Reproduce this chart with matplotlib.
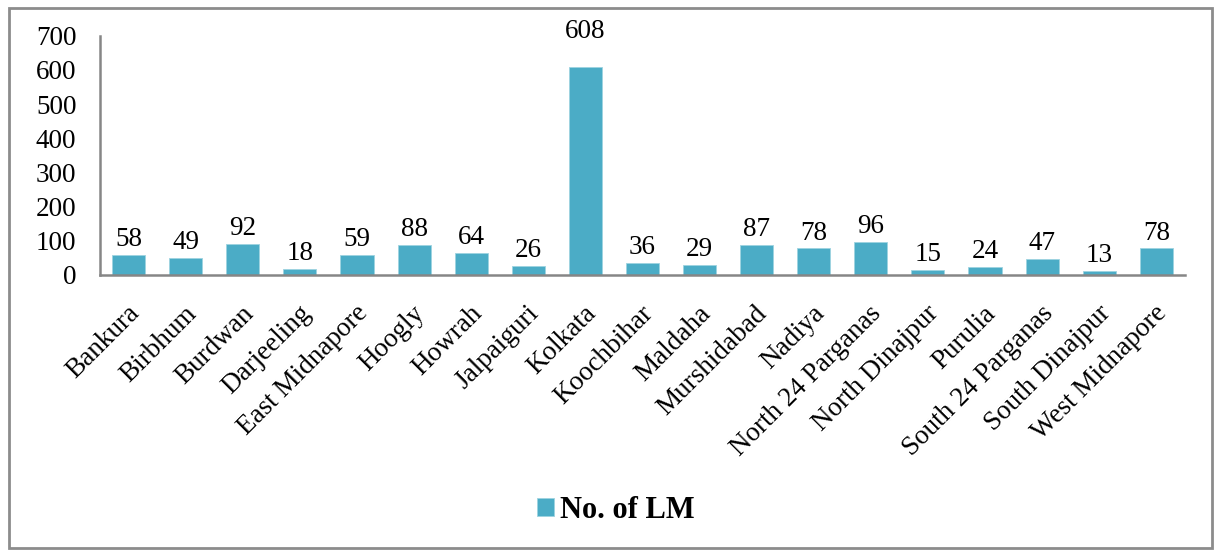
import matplotlib
matplotlib.use("Agg")
import matplotlib.pyplot as plt
import matplotlib.transforms as mtransforms
from matplotlib.patches import Rectangle

# Distritos y número de LM
districts = ["Bankura", "Birbhum", "Burdwan", "Darjeeling", "East Midnapore",
             "Hoogly", "Howrah", "Jalpaiguri", "Kolkata", "Koochbihar",
             "Maldaha", "Murshidabad", "Nadiya", "North 24 Parganas",
             "North Dinajpur", "Purulia", "South 24 Parganas",
             "South Dinajpur", "West Midnapore"]
lm_counts = [58, 49, 92, 18, 59, 88, 64, 26, 608, 36, 29, 87, 78, 96, 15, 24, 47, 13, 78]
y_ticks = [0, 100, 200, 300, 400, 500, 600, 700]

plt.rcParams["font.family"] = ["Liberation Serif", "DejaVu Serif"]
FS = 19.5
BAR = "#4BACC6"
AXIS = "#868686"

fig = plt.figure(figsize=(12.14, 5.51), dpi=100)
ax = fig.add_axes([0.0824, 0.501, 0.8936, 0.434])

x = list(range(len(districts)))
bars = ax.bar(x, lm_counts, width=0.58, color=BAR, edgecolor="#9ed3e0", linewidth=0.6,
              label="No. of LM")

# Etiquetas de valor encima de cada barra
for xi, v in zip(x, lm_counts):
    off = 17 if v > 600 else 2
    ax.annotate(str(v), (xi, v), xytext=(0, off), textcoords="offset points",
                ha="center", va="bottom", fontsize=FS, annotation_clip=False)

ax.set_xlim(-0.5, len(districts) - 0.5)
ax.set_ylim(0, 700)
ax.set_yticks(y_ticks)
ax.set_yticklabels([str(t) for t in y_ticks], fontsize=FS)
ax.tick_params(axis="y", length=0, pad=17)

ax.set_xticks(x)
ax.set_xticklabels(districts, fontsize=FS, rotation=45, ha="right", va="center",
                   rotation_mode="anchor")
ax.tick_params(axis="x", length=0, pad=25)
shift = mtransforms.ScaledTranslation(7 / 100, 0, fig.dpi_scale_trans)
for lbl in ax.get_xticklabels():
    lbl.set_transform(lbl.get_transform() + shift)

for side in ["top", "right"]:
    ax.spines[side].set_visible(False)
for side in ["left", "bottom"]:
    ax.spines[side].set_color(AXIS)
    ax.spines[side].set_linewidth(1.8)

fig.legend(handles=[bars], labels=["No. of LM"], loc="center",
           bbox_to_anchor=(0.507, 0.074), frameon=False, handlelength=0.55,
           handleheight=0.55, handletextpad=0.2,
           prop={"weight": "bold", "size": 22})

# Marco exterior del gráfico
fig.patches.append(Rectangle((9 / 1214, 3 / 551), 1203 / 1214, 540 / 551,
                             transform=fig.transFigure, fill=False,
                             edgecolor="#8c8c8c", linewidth=2))

fig.savefig("out.png", dpi=100)
